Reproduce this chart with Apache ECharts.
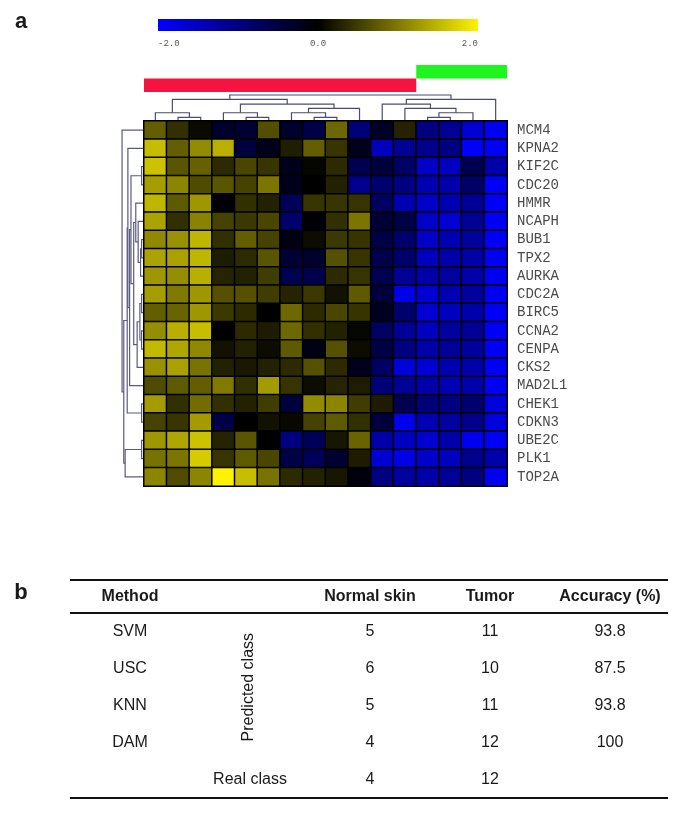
<!DOCTYPE html>
<html><head><meta charset="utf-8">
<script src="https://cdn.jsdelivr.net/npm/echarts@6/dist/echarts.min.js"></script>
<style>html,body{margin:0;padding:0;background:#fff}#c{width:685px;height:821px}</style>
</head><body><div id="c"></div>
<script>
// ---------- DATA ----------
const genes = ['MCM4','KPNA2','KIF2C','CDC20','HMMR','NCAPH','BUB1','TPX2','AURKA','CDC2A',
               'BIRC5','CCNA2','CENPA','CKS2','MAD2L1','CHEK1','CDKN3','UBE2C','PLK1','TOP2A'];
const samples = ['S1','S2','S3','S4','S5','S6','S7','S8','S9','S10','S11','S12','S13','S14','S15','S16'];
const sampleClass = ['Tumor','Tumor','Tumor','Tumor','Tumor','Tumor','Tumor','Tumor','Tumor','Tumor','Tumor','Tumor',
                     'Normal','Normal','Normal','Normal'];
const exprValues = [
  [0.78,0.40,0.08,-0.35,-0.40,0.65,-0.35,-0.55,0.85,-0.95,-0.30,0.28,-1.00,-1.15,-1.65,-1.90],
  [1.55,0.78,1.15,1.45,-0.47,-0.20,0.25,0.78,0.43,-0.20,-1.50,-1.15,-1.10,-1.00,-2.00,-1.95],
  [1.60,0.70,0.80,0.35,0.58,0.43,-0.20,0.05,0.35,-0.63,-0.47,-0.80,-1.55,-1.50,-0.63,-1.33],
  [1.30,1.10,0.62,0.70,0.55,0.97,-0.20,0.00,0.27,-1.10,-0.85,-1.00,-1.40,-1.33,-0.80,-1.95],
  [1.50,0.74,1.25,-0.05,0.40,0.27,-0.70,0.43,0.43,0.43,-0.78,-1.40,-1.57,-1.40,-1.18,-1.95],
  [1.35,0.40,1.08,0.55,0.47,0.58,-0.85,-0.05,0.40,0.97,-0.43,-0.55,-1.57,-1.65,-1.18,-1.95],
  [1.12,1.20,1.50,0.40,0.78,0.55,-0.15,0.10,0.47,0.43,-0.55,-0.85,-1.57,-1.40,-1.25,-1.95],
  [1.35,1.33,1.50,0.23,0.35,0.70,-0.40,-0.35,0.67,0.43,-0.60,-0.85,-1.50,-1.33,-1.30,-1.90],
  [1.25,1.17,1.45,0.30,0.27,0.50,-0.63,-0.60,0.35,0.43,-0.63,-1.18,-1.33,-1.25,-1.30,-1.88],
  [1.30,1.00,1.25,0.67,0.67,0.50,0.30,0.47,0.15,0.74,-0.47,-1.80,-1.65,-1.40,-1.25,-1.90],
  [0.78,0.82,1.25,0.47,0.35,0.00,0.86,0.35,0.58,0.43,-0.27,-0.85,-1.65,-1.50,-1.33,-1.95],
  [1.17,1.45,1.57,0.00,0.35,0.23,0.86,0.40,0.27,0.05,-0.78,-1.18,-1.50,-1.25,-1.18,-1.95],
  [1.52,1.37,1.13,0.15,0.27,0.10,0.74,-0.15,0.67,0.10,-0.55,-1.00,-1.33,-1.18,-1.25,-1.95],
  [1.20,1.33,0.94,0.27,0.20,0.27,0.35,0.67,0.35,-0.23,-0.78,-1.72,-1.65,-1.40,-1.33,-1.95],
  [0.62,0.74,0.78,1.00,0.40,1.28,0.43,0.10,0.30,0.23,-0.94,-1.18,-1.33,-1.40,-1.33,-1.95],
  [1.28,0.40,0.90,0.40,0.27,0.50,-0.47,1.15,1.10,0.50,0.23,-0.63,-0.94,-1.00,-0.86,-1.72],
  [0.55,0.43,1.28,-0.55,0.00,0.15,0.07,0.55,0.74,0.40,-0.47,-1.85,-1.40,-1.25,-1.10,-1.72],
  [1.25,1.37,1.60,0.30,0.70,0.00,-1.00,-0.70,0.18,0.82,-1.33,-1.50,-1.65,-1.33,-1.88,-1.95],
  [0.94,0.97,1.68,0.43,0.74,0.58,-0.55,-0.70,-0.40,0.23,-1.65,-1.80,-1.57,-1.50,-1.10,-1.33],
  [1.10,0.62,1.10,2.00,1.57,0.94,0.35,0.27,0.18,-0.10,-1.00,-1.25,-1.33,-1.18,-1.00,-1.90]
];
// dendrogram merges: [childA, childB, height]; leaves are 0..n-1, merge k gets id n+k
const colMerges = [
  [1,2,0.85],[0,16,1.9],[4,5,0.85],[3,18,1.9],[7,8,0.85],[6,20,1.9],[21,9,2.9],[19,22,3.9],[17,23,5.0],
  [12,13,0.85],[25,14,1.9],[11,26,2.9],[10,27,3.9],[28,15,5.0],[24,29,6.0]
];
const rowMerges = [
  [2,3,0.7],[6,7,0.7],[21,8,1.0],[5,22,1.7],[4,23,2.4],[9,10,0.7],[11,12,0.7],[25,26,1.2],[27,13,2.0],
  [24,28,3.0],[20,29,3.8],[30,14,4.2],[1,31,4.7],[15,16,0.7],[32,33,4.9],[17,18,0.7],[35,19,5.5],
  [34,36,5.9],[0,37,6.4]
];
const scaleTicks = [-2, 0, 2];
const scaleColors = ['#0000ff', '#000000', '#fff200'];
const classColors = {Tumor: '#f5143f', Normal: '#1ef51e'};
const tableHeaders = ['Method', 'Normal skin', 'Tumor', 'Accuracy (%)'];
const methods = ['SVM', 'USC', 'KNN', 'DAM'];
const predNormal = [5, 6, 5, 4];
const predTumor = [11, 10, 11, 12];
const accuracy = ['93.8', '87.5', '93.8', '100'];
const realNormal = 4;
const realTumor = 12;

// ---------- HELPERS ----------
function dendroSegments(nLeaves, merges) {
  const pos = [], hgt = [], segs = [];
  for (let i = 0; i < nLeaves; i++) { pos[i] = i + 0.5; hgt[i] = 0; }
  merges.forEach((m, k) => {
    const id = nLeaves + k, a = m[0], b = m[1], h = m[2];
    pos[id] = (pos[a] + pos[b]) / 2; hgt[id] = h;
    segs.push([pos[a], hgt[a], pos[b], hgt[b], h]);
  });
  return segs;
}
// runs of consecutive samples with the same class: [start, end, level]
const classRuns = [];
sampleClass.forEach((c, i) => {
  const last = classRuns[classRuns.length - 1];
  if (last && last[3] === c) last[1] = i + 1;
  else classRuns.push([i, i + 1, c === 'Tumor' ? 0 : 1, c]);
});
const heatData = [];
exprValues.forEach((row, r) => row.forEach((v, c) => heatData.push([c, r, v])));

const chart = echarts.init(document.getElementById('c'), null, {renderer: 'canvas'});
const lineCol = '#4c4c72';

// ---------- TABLE GRAPHICS ----------
const tFont = '16px "Liberation Sans", Arial, sans-serif';
const tBold = 'bold 16px "Liberation Sans", Arial, sans-serif';
const colX = [130, 370, 490, 610];
const rowY0 = 632, rowGap = 36.8;
const g = [];
function txt(s, x, y, font, extra) {
  return Object.assign({type: 'text', x: x, y: y, style: {text: String(s), font: font, fill: '#1a1a1a', align: 'center', verticalAlign: 'middle'}}, extra || {});
}
g.push(txt('a', 21, 22, 'bold 22px "Liberation Sans", Arial, sans-serif'));
g.push(txt('b', 21, 593, 'bold 22px "Liberation Sans", Arial, sans-serif'));
g.push({type: 'line', shape: {x1: 70, y1: 580, x2: 668, y2: 580}, style: {stroke: '#111', lineWidth: 2}});
g.push({type: 'line', shape: {x1: 70, y1: 613, x2: 668, y2: 613}, style: {stroke: '#111', lineWidth: 2}});
g.push({type: 'line', shape: {x1: 70, y1: 798, x2: 668, y2: 798}, style: {stroke: '#111', lineWidth: 2}});
tableHeaders.forEach((h, i) => g.push(txt(h, colX[i], 597, tBold)));
methods.forEach((m, i) => {
  const y = rowY0 + i * rowGap;
  g.push(txt(m, colX[0], y, tFont));
  g.push(txt(predNormal[i], colX[1], y, tFont));
  g.push(txt(predTumor[i], colX[2], y, tFont));
  g.push(txt(accuracy[i], colX[3], y, tFont));
});
const realY = rowY0 + 4 * rowGap;
g.push(txt('Real class', 250, realY, tFont));
g.push(txt(realNormal, colX[1], realY, tFont));
g.push(txt(realTumor, colX[2], realY, tFont));
g.push(txt('Predicted class', 249, rowY0 + 1.5 * rowGap, tFont, {rotation: Math.PI / 2}));

// ---------- OPTION ----------
const option = {
  backgroundColor: '#fff',
  animation: false,
  grid: [
    {left: 158, top: 19, width: 320, height: 12},     // color scale
    {left: 144, top: 65, width: 363, height: 27},     // class bars
    {left: 144, top: 95, width: 363, height: 26},     // column dendrogram
    {left: 120, top: 121, width: 24, height: 365},    // row dendrogram
    {left: 144, top: 121, width: 363, height: 365}    // heatmap
  ],
  xAxis: [
    {gridIndex: 0, type: 'value', min: -2, max: 2, interval: 2,
     axisLine: {show: false}, axisTick: {show: false}, splitLine: {show: false},
     axisLabel: {margin: 8, color: '#555', fontSize: 9, fontFamily: '"Liberation Mono", monospace',
       formatter: v => v.toFixed(1), alignMinLabel: 'left', alignMaxLabel: 'right'}},
    {gridIndex: 1, type: 'value', min: 0, max: samples.length, show: false},
    {gridIndex: 2, type: 'value', min: 0, max: samples.length, show: false},
    {gridIndex: 3, type: 'value', min: 0, max: 7, inverse: true, show: false},
    {gridIndex: 4, type: 'category', data: samples, show: false}
  ],
  yAxis: [
    {gridIndex: 0, type: 'value', min: 0, max: 1, show: false},
    {gridIndex: 1, type: 'value', min: 0, max: 2, show: false},
    {gridIndex: 2, type: 'value', min: 0, max: 6, show: false},
    {gridIndex: 3, type: 'value', min: 0, max: genes.length, inverse: true, show: false},
    {gridIndex: 4, type: 'category', data: genes, inverse: true, position: 'right',
     axisLine: {show: false}, axisTick: {show: false}, splitLine: {show: false},
     axisLabel: {margin: 10, color: '#4a4a4a', fontSize: 14, fontFamily: '"Liberation Mono", "DejaVu Sans Mono", monospace'}}
  ],
  visualMap: {type: 'continuous', min: -2, max: 2, show: false, seriesIndex: 4, inRange: {color: scaleColors}},
  series: [
    {type: 'custom', xAxisIndex: 0, yAxisIndex: 0, data: [[scaleTicks[0], scaleTicks[scaleTicks.length - 1]]],
     renderItem: (p, api) => {
       const a = api.coord([api.value(0), 0]), b = api.coord([api.value(1), 1]);
       return {type: 'rect', shape: {x: a[0], y: b[1], width: b[0] - a[0], height: a[1] - b[1]},
         style: {fill: new echarts.graphic.LinearGradient(0, 0, 1, 0,
           scaleColors.map((c, i) => ({offset: i / (scaleColors.length - 1), color: c})))}};
     }},
    {type: 'custom', xAxisIndex: 1, yAxisIndex: 1, data: classRuns,
     renderItem: (p, api) => {
       const s = api.value(0), e = api.value(1), lv = api.value(2);
       const a = api.coord([s, lv]), b = api.coord([e, lv + 1]);
       return {type: 'rect', shape: {x: a[0], y: b[1], width: b[0] - a[0], height: a[1] - b[1]},
         style: {fill: classColors[classRuns[p.dataIndex][3]]}};
     }},
    {type: 'custom', xAxisIndex: 2, yAxisIndex: 2, data: dendroSegments(samples.length, colMerges),
     encode: {x: [0, 2], y: [1, 3, 4]},
     renderItem: (p, api) => {
       const pa = api.value(0), ha = api.value(1), pb = api.value(2), hb = api.value(3), h = api.value(4);
       return {type: 'polyline', shape: {points: [api.coord([pa, ha]), api.coord([pa, h]), api.coord([pb, h]), api.coord([pb, hb])]},
         style: {stroke: lineCol, lineWidth: 1.2, fill: null}};
     }},
    {type: 'custom', xAxisIndex: 3, yAxisIndex: 3, data: dendroSegments(genes.length, rowMerges),
     encode: {y: [0, 2], x: [1, 3, 4]},
     renderItem: (p, api) => {
       const pa = api.value(0), ha = api.value(1), pb = api.value(2), hb = api.value(3), h = api.value(4);
       return {type: 'polyline', shape: {points: [api.coord([ha, pa]), api.coord([h, pa]), api.coord([h, pb]), api.coord([hb, pb])]},
         style: {stroke: '#5a5a82', lineWidth: 1.2, fill: null}};
     }},
    {type: 'heatmap', xAxisIndex: 4, yAxisIndex: 4, data: heatData,
     itemStyle: {borderColor: '#000', borderWidth: 1.5}, emphasis: {disabled: true}}
  ],
  graphic: g
};
chart.setOption(option);
</script>
</body></html>
